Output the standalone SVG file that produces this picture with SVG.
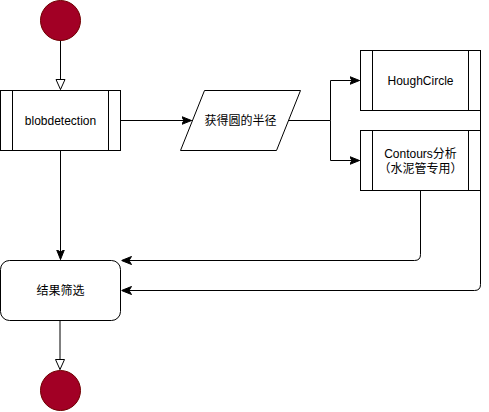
<svg xmlns="http://www.w3.org/2000/svg" width="489" height="412" viewBox="0 0 489 412">
<style>
.box{fill:#fff;stroke:#000;stroke-width:1}
.term{fill:#a20025;stroke:#6f0000;stroke-width:1}
.lbl{font-family:"Liberation Sans","Noto Sans CJK SC",sans-serif;font-size:12px;fill:#000;text-anchor:middle;dominant-baseline:central}
.edge{fill:none;stroke:#000;stroke-width:1}
</style>
<defs>
<marker id="classic" viewBox="0 0 10 10" refX="10" refY="5" markerWidth="10" markerHeight="10" markerUnits="userSpaceOnUse" orient="auto">
<path d="M0,1 L10,5 L0,9 L2.5,5 Z" fill="#000" stroke="#000" stroke-width="1"/>
</marker>
<marker id="open" viewBox="0 0 12 12" refX="11" refY="6" markerWidth="12" markerHeight="12" markerUnits="userSpaceOnUse" orient="auto">
<path d="M1,1.5 L11,6 L1,10.5 Z" fill="#fff" stroke="#000" stroke-width="1"/>
</marker>
</defs>
<g id="connectors">
<path class="edge" d="M60.5,40 L60.5,89.5" marker-end="url(#open)"/>
<path class="edge" d="M120.5,120.5 L191.5,120.5" marker-end="url(#classic)"/>
<path class="edge" d="M288,120.5 L330.5,120.5 L330.5,80.5 L359.5,80.5" marker-end="url(#classic)"/>
<path class="edge" d="M330.5,120.5 L330.5,160.5 L359.5,160.5" marker-end="url(#classic)"/>
<path class="edge" d="M60.5,150 L60.5,259.5" marker-end="url(#classic)"/>
<path class="edge" d="M420.5,190 L420.5,254.5 Q420.5,260.5 414.5,260.5 L121.5,260.5" marker-end="url(#classic)"/>
<path class="edge" d="M480.5,110 L480.5,284.5 Q480.5,290.5 474.5,290.5 L121.5,290.5" marker-end="url(#classic)"/>
<path class="edge" d="M60,320 L60,369.5" stroke="#555" marker-end="url(#open)"/>
</g>
<g id="start">
<circle class="term" cx="60.5" cy="20.5" r="20"/>
</g>
<g id="blobdetection">
<rect class="box" x="0.5" y="90.5" width="120" height="60"/>
<path class="edge" d="M12.5,90.5 V150.5 M108.5,90.5 V150.5"/>
<text class="lbl" x="60.5" y="120.5">blobdetection</text>
</g>
<g id="radius">
<path class="box" d="M204.5,90.5 L300.5,90.5 L276.5,150.5 L180.5,150.5 Z"/>
<text class="lbl" x="240.5" y="120.5">获得圆的半径</text>
</g>
<g id="houghcircle">
<rect class="box" x="360.5" y="50.5" width="120" height="60"/>
<path class="edge" d="M372.5,50.5 V110.5 M468.5,50.5 V110.5"/>
<text class="lbl" x="420.5" y="80.5">HoughCircle</text>
</g>
<g id="contours">
<rect class="box" x="360.5" y="130.5" width="120" height="60"/>
<path class="edge" d="M372.5,130.5 V190.5 M468.5,130.5 V190.5"/>
<text class="lbl" x="420.5" y="153.5">Contours分析</text>
<text class="lbl" x="420.5" y="168.5">（水泥管专用）</text>
</g>
<g id="filter">
<rect class="box" x="0.5" y="260.5" width="120" height="60" rx="9" ry="9"/>
<text class="lbl" x="60.5" y="290.5">结果筛选</text>
</g>
<g id="end">
<circle class="term" cx="60.5" cy="390.5" r="20"/>
</g>
</svg>
